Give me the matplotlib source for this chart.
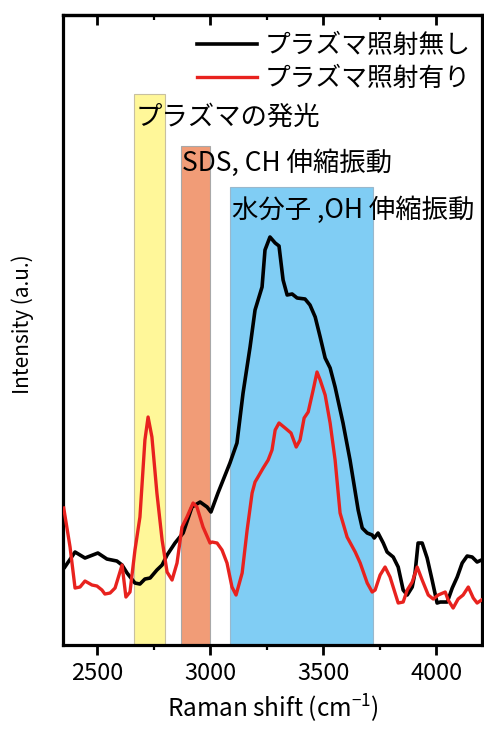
import numpy as np
import matplotlib
matplotlib.use('Agg')
import matplotlib.pyplot as plt

plt.rcParams['font.family'] = ['Noto Sans CJK JP', 'DejaVu Sans']
plt.rcParams['mathtext.fontset'] = 'custom'
plt.rcParams['mathtext.rm'] = 'Noto Sans CJK JP'

# black: without plasma irradiation
x_off = [2358, 2403, 2447, 2504, 2544, 2588, 2611, 2633, 2668, 2690, 2712, 2735,
         2765, 2788, 2810, 2845, 2881, 2920, 2956, 2987, 3004, 3035, 3088, 3119,
         3146, 3177, 3199, 3230, 3243, 3265, 3288, 3305, 3323, 3341, 3363, 3385,
         3420, 3442, 3465, 3487, 3509, 3531, 3553, 3588, 3619, 3655, 3673, 3695,
         3717, 3726, 3743, 3766, 3783, 3810, 3832, 3854, 3872, 3894, 3907, 3920,
         3938, 3960, 3982, 4004, 4018, 4049, 4071, 4093, 4115, 4137, 4159, 4181,
         4200]
y_off = [0.78, 0.93, 0.87, 0.92, 0.86, 0.84, 0.80, 0.72, 0.62, 0.61, 0.66, 0.67,
         0.75, 0.80, 0.90, 1.02, 1.12, 1.38, 1.43, 1.38, 1.33, 1.52, 1.82, 2.02,
         2.52, 2.98, 3.35, 3.58, 3.95, 4.08, 4.02, 3.99, 3.65, 3.50, 3.51, 3.47,
         3.46, 3.40, 3.28, 3.08, 2.87, 2.77, 2.58, 2.22, 1.85, 1.35, 1.17, 1.12,
         1.10, 1.07, 1.12, 1.02, 0.93, 0.88, 0.78, 0.55, 0.50, 0.58, 0.73, 1.02,
         1.02, 0.87, 0.65, 0.42, 0.43, 0.43, 0.57, 0.68, 0.82, 0.89, 0.88, 0.83,
         0.85]

# red: with plasma irradiation
x_on = [2353, 2381, 2403, 2425, 2447, 2478, 2500, 2522, 2535, 2558, 2580, 2611,
        2628, 2646, 2668, 2690, 2712, 2726, 2743, 2765, 2788, 2810, 2832, 2854,
        2876, 2898, 2925, 2942, 2969, 3000, 3009, 3031, 3053, 3075, 3097, 3115,
        3142, 3164, 3186, 3199, 3212, 3235, 3257, 3274, 3288, 3305, 3332, 3358,
        3381, 3398, 3416, 3434, 3456, 3473, 3487, 3509, 3531, 3553, 3575, 3606,
        3642, 3664, 3695, 3717, 3730, 3752, 3774, 3796, 3814, 3832, 3854, 3872,
        3894, 3916, 3938, 3965, 3987, 4009, 4040, 4053, 4075, 4097, 4119, 4142,
        4164, 4181, 4200]
y_on = [1.37, 0.98, 0.57, 0.58, 0.64, 0.60, 0.59, 0.55, 0.51, 0.52, 0.57, 0.80,
        0.48, 0.53, 0.95, 1.28, 2.05, 2.28, 2.08, 1.52, 1.05, 0.73, 0.65, 0.82,
        1.18, 1.28, 1.42, 1.38, 1.18, 1.02, 1.03, 1.02, 0.95, 0.82, 0.58, 0.50,
        0.72, 1.15, 1.52, 1.63, 1.68, 1.77, 1.85, 1.95, 2.15, 2.22, 2.17, 2.12,
        1.98, 2.05, 2.27, 2.33, 2.55, 2.73, 2.65, 2.50, 2.22, 1.85, 1.32, 1.08,
        0.93, 0.82, 0.62, 0.53, 0.55, 0.70, 0.78, 0.68, 0.55, 0.42, 0.43, 0.55,
        0.63, 0.78, 0.65, 0.50, 0.46, 0.50, 0.53, 0.45, 0.37, 0.46, 0.50, 0.58,
        0.47, 0.42, 0.45]

# highlighted bands
band_lo = [2665, 2870, 3090]
band_hi = [2800, 3000, 3720]
band_top = [5.51, 4.99, 4.58]
band_colors = ['#fff799', '#f19c77', '#80cdf4']
band_edges = ['#c8c0a0', '#a8a8a8', '#9ab8cc']
band_labels = ['プラズマの発光', 'SDS, CH 伸縮振動', '水分子 ,OH 伸縮振動']
label_y = [5.28, 4.82, 4.35]

fig = plt.figure(figsize=(4.85, 7.3), dpi=100)
ax = fig.add_axes([0.130, 0.1164, 0.864, 0.8631])

for lo, hi, top, c, ec in zip(band_lo, band_hi, band_top, band_colors, band_edges):
    ax.bar(lo, top, width=hi - lo, align='edge', color=c, edgecolor=ec,
           linewidth=0.8, zorder=1)
for lo, lab, ly in zip(band_lo, band_labels, label_y):
    ax.text(lo + 5, ly, lab, fontsize=19, ha='left', va='center', zorder=4)

ax.plot(x_off, y_off, color='black', lw=2.6, label='プラズマ照射無し', zorder=3)
ax.plot(x_on, y_on, color='#e8221e', lw=2.4, label='プラズマ照射有り', zorder=3)

ax.set_xlim(2350, 4203)
ax.set_ylim(0, 6.3)
ax.set_yticks([])
ax.set_xticks([2500, 3000, 3500, 4000])
ax.set_xticks([2750, 3250, 3750], minor=True)
ax.tick_params(axis='x', which='major', direction='out', length=7, width=2.0,
               labelsize=17, pad=5)
ax.tick_params(axis='x', which='minor', direction='out', length=3.5, width=1.6)
for sp in ax.spines.values():
    sp.set_linewidth(2.3)

top = ax.secondary_xaxis('top')
top.set_xticks([2500, 3000, 3500, 4000])
top.set_xticks([2750, 3250, 3750], minor=True)
top.tick_params(axis='x', which='major', direction='in', length=7, width=2.0,
                labeltop=False)
top.tick_params(axis='x', which='minor', direction='in', length=3.5, width=1.6)
top.spines['top'].set_linewidth(2.3)

ax.set_xlabel('Raman shift (cm$^{-1}$)', fontsize=17.5, labelpad=6)
ax.set_ylabel('Intensity (a.u.)', fontsize=15)
ax.yaxis.set_label_coords(-0.069, 0.51)

ax.legend(loc='upper right', frameon=False, fontsize=18.5, handlelength=2.33,
          handletextpad=0.3, labelspacing=0.27, borderaxespad=0.05,
          bbox_to_anchor=(1.0, 0.989))

fig.savefig('out.png', dpi=100)
